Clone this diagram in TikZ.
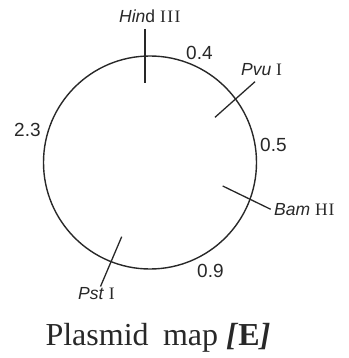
\documentclass[tikz,border=0pt]{standalone}
\usepackage{fontspec}
\setmainfont{Liberation Serif}
\newfontfamily\lsans{Liberation Sans}
\definecolor{ink}{RGB}{40,40,40}
\begin{document}
\begin{tikzpicture}[x=1pt,y=-1pt,
  tickline/.style={draw=ink,line width=1.3pt},
  lbl/.style={inner sep=0pt,anchor=base west,text=ink,font=\lsans\fontsize{17.5}{20}\selectfont},
  num/.style={inner sep=0pt,anchor=base west,text=ink,font=\lsans\fontsize{19}{22}\selectfont}]
\useasboundingbox (0,0) rectangle (348,358);
\node[circle,draw=ink,line width=1.4pt,minimum size=213pt,inner sep=0pt] (ring) at (150,162.5) {};
% ticks
\coordinate (h1) at (145,29);    \coordinate (h2) at (145,83);
\coordinate (p1) at (255,81.7);  \coordinate (p2) at (215,117.3);
\coordinate (b1) at (222.7,186); \coordinate (b2) at (270.7,209.3);
\coordinate (s1) at (121.7,236.7); \coordinate (s2) at (100.5,286.5);
\draw[tickline] (h1) -- (h2);
\draw[tickline] (p1) -- (p2);
\draw[tickline] (b1) -- (b2);
\draw[tickline] (s1) -- (s2);
% enzyme labels
\node[lbl] (hind) at (119,23) {\textit{Hin}d {\rmfamily I\kern1.5pt I\kern1.5pt I}};
\node[lbl] (pvu) at (241,76) {\textit{Pvu} {\rmfamily I}};
\node[lbl] (bam) at (274,215) {\textit{Bam} {\rmfamily H\kern1pt I}};
\node[lbl] (pst) at (78,299) {\textit{Pst} {\rmfamily I}};
% distances
\node[num] (d04) at (186,60) {0.4};
\node[num] (d05) at (260,151) {0.5};
\node[num] (d23) at (14,137) {2.3};
\node[num] (d09) at (197,277) {0.9};
% caption
\node[inner sep=0pt,anchor=base,text=ink,font=\fontsize{32}{36}\selectfont] (cap) at (158,345)
  {Plasmid\hspace{0.45em}map \textbf{\textit{[}E\textit{]}}};
\end{tikzpicture}
\end{document}
